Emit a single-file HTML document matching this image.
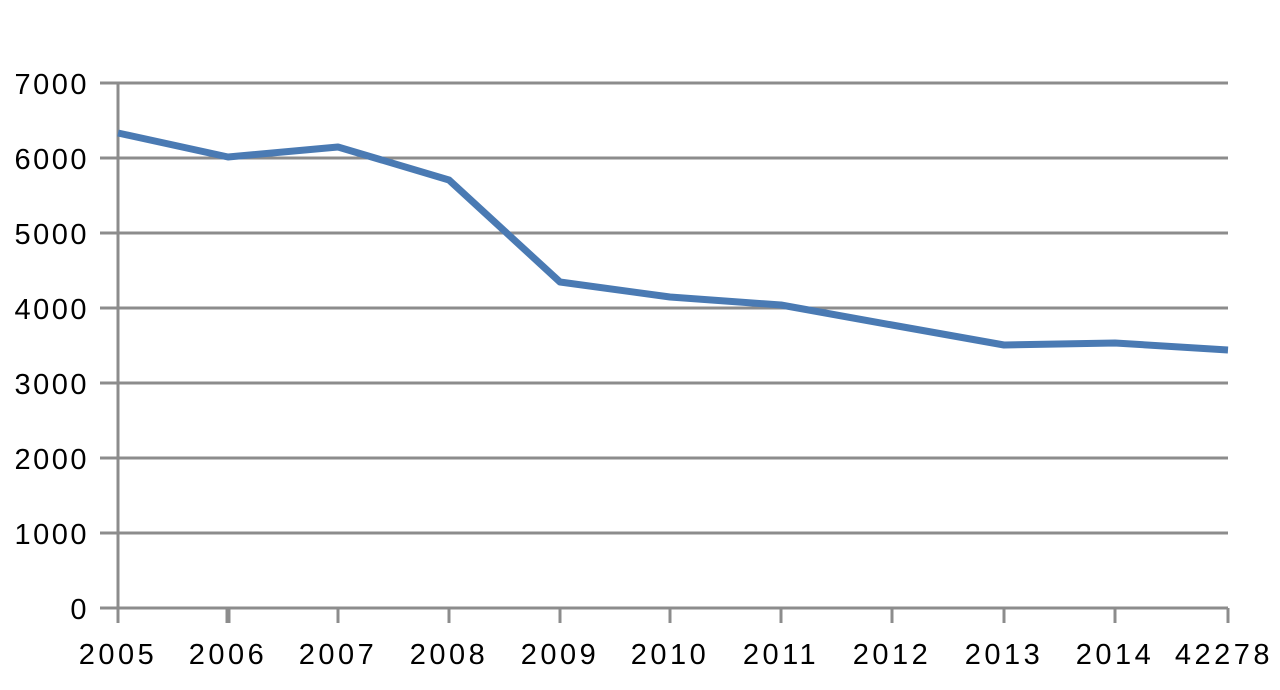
<!DOCTYPE html>
<html><head><style>body{margin:0;background:#fff}</style></head><body>
<svg width="1280" height="685" xmlns="http://www.w3.org/2000/svg" font-family="Liberation Sans, sans-serif" font-size="29" fill="#000">
<g stroke="#8c8c8c" stroke-width="3">
<line x1="100" y1="83" x2="1228" y2="83"/>
<line x1="100" y1="158" x2="1228" y2="158"/>
<line x1="100" y1="233" x2="1228" y2="233"/>
<line x1="100" y1="308" x2="1228" y2="308"/>
<line x1="100" y1="383" x2="1228" y2="383"/>
<line x1="100" y1="458" x2="1228" y2="458"/>
<line x1="100" y1="533" x2="1228" y2="533"/>
<line x1="100" y1="608" x2="1228" y2="608"/>
<line x1="118" y1="83" x2="118" y2="623"/>
<line x1="228" y1="608" x2="228" y2="623" stroke-width="5"/>
<line x1="338" y1="608" x2="338" y2="623"/>
<line x1="449" y1="608" x2="449" y2="623"/>
<line x1="560" y1="608" x2="560" y2="623"/>
<line x1="670" y1="608" x2="670" y2="623"/>
<line x1="781" y1="608" x2="781" y2="623"/>
<line x1="892" y1="608" x2="892" y2="623"/>
<line x1="1004" y1="608" x2="1004" y2="623"/>
<line x1="1115" y1="608" x2="1115" y2="623"/>
<line x1="1228" y1="608" x2="1228" y2="623"/>
</g>
<polyline fill="none" stroke="#4a7ab3" stroke-width="7" stroke-linejoin="round" points="118,133 228,157 338,147 449,180 560,282 670,297 781,305 892,325 1004,345 1115,343 1228,350"/>
<g text-anchor="end" letter-spacing="2.5">
<text x="89" y="94">7000</text><text x="89" y="169">6000</text><text x="89" y="244">5000</text>
<text x="89" y="319">4000</text><text x="89" y="394">3000</text><text x="89" y="469">2000</text>
<text x="89" y="544">1000</text><text x="89" y="619">0</text>
</g>
<g text-anchor="middle" letter-spacing="3.5">
<text x="118" y="664">2005</text><text x="228" y="664">2006</text><text x="338" y="664">2007</text>
<text x="449" y="664">2008</text><text x="560" y="664">2009</text><text x="670" y="664">2010</text>
<text x="781" y="664">2011</text><text x="892" y="664">2012</text><text x="1004" y="664">2013</text>
<text x="1115" y="664">2014</text><text x="1224" y="664">42278</text>
</g>
</svg>
</body></html>
